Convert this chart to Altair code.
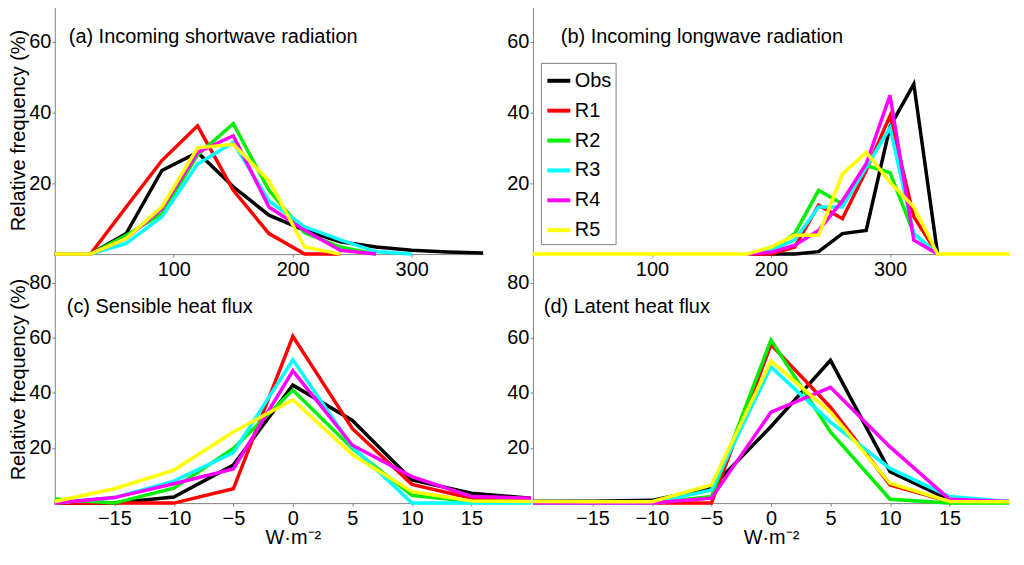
import altair as alt
import pandas as pd

series = ["Obs", "R1", "R2", "R3", "R4", "R5"]
colors = ["#000000", "#ff0000", "#00ee00", "#00ffff", "#ff00ff", "#ffff00"]
N = None

# (a) Incoming shortwave radiation
sw_x = [0, 30, 60, 90, 120, 150, 180, 210, 240, 270, 300, 330, 360]
sw_obs = [0, 0, 5.8, 23.6, 28.7, 19, 11, 6.7, 3.5, 2, 1.1, 0.6, 0.3]
sw_r1 = [0, 0, 13.3, 26.4, 36.2, 18, 5.8, 0, 0, N, N, N, N]
sw_r2 = [0, 0, 5.3, 11.4, 28, 36.8, 18, 6, 2, 0, N, N, N]
sw_r3 = [0, 0, 3, 10.5, 25.4, 31.5, 15, 7.7, 4, 0.7, 0, N, N]
sw_r4 = [0, 0, 4.4, 12.8, 28.7, 33.4, 13.3, 6.7, 1.1, 0, N, N, N]
sw_r5 = [0, 0, 4.4, 13.3, 30, 31, 20.7, 2, 0, N, N, N, N]

# (b) Incoming longwave radiation
lw_x = [0, 20, 40, 60, 80, 100, 120, 140, 160, 180, 200, 220, 240, 260, 280, 300, 320, 340, 360, 380, 400]
lw_obs = [N] * 9 + [0, 0, 0, 0.7, 5.8, 6.7, 36, 48, 0, N, N, N]
lw_r1 = [N] * 9 + [0, 0, 2, 13.8, 10, 23.6, 39, 10.5, 0, N, N, N]
lw_r2 = [N] * 9 + [0, 1, 5.8, 18, 14.2, 25, 23, 5.8, 0, N, N, N]
lw_r3 = [N] * 9 + [0, 1, 4, 13.3, 13.3, 24.5, 35.7, 5.8, 0, N, N, N]
lw_r4 = [N] * 9 + [0, 0.5, 2.5, 6.7, 15, 25.5, 44.8, 3.9, 0, N, N, N]
lw_r5 = [0] * 9 + [0, 2, 5.3, 5.3, 22.6, 28.7, 20.3, 13.3, 0, 0, 0, 0]

# (c) Sensible heat flux
sh_x = [-20, -15, -10, -5, 0, 5, 10, 15, 20]
sh_obs = [0, 0, 2.2, 13.8, 42.8, 30, 8.4, 3.6, 1.8]
sh_r1 = [0, 0, 0, 5.2, 60.5, 27, 6.8, 1.8, 1.2]
sh_r2 = [1.5, 0, 5.4, 19.8, 41, 19.8, 2.8, 0.6, 0.6]
sh_r3 = [0, 2, 8, 18.3, 52, 20.4, 0, 0, 0]
sh_r4 = [0, 2, 7, 12.4, 48, 21, 9.6, 2.4, 1.8]
sh_r5 = [0.6, 5.2, 12, 25.8, 37.5, 17.6, 4.2, 0.8, 0.6]

# (d) Latent heat flux
lh_x = [-20, -15, -10, -5, 0, 5, 10, 15, 20]
lh_obs = [0.7, 0.7, 1, 5.6, 27.8, 51.8, 11.4, 1.2, 0.6]
lh_r1 = [0, 0, 0, 0, 57.5, 34.8, 6.6, 0.6, 0.6]
lh_r2 = [0, 0, 0, 2.4, 59.2, 25.8, 1.4, 0, 0]
lh_r3 = [0, 0, 0, 4.8, 49.4, 29.4, 12.6, 2.4, 0.6]
lh_r4 = [0, 0, 0, 1.8, 33, 42, 20.4, 1.4, 0.6]
lh_r5 = [0.6, 0.5, 0.5, 6.6, 51.6, 33, 7.2, 0.6, 0.5]


def frame(xs, ys_list):
    rows = []
    for k, (name, ys) in enumerate(zip(series, ys_list)):
        for x, y in zip(xs, ys):
            if y is not None:
                rows.append({"series": name, "k": k, "x": x, "y": y})
    return pd.DataFrame(rows)


FONT = "Liberation Sans"
legend = alt.Legend(
    title=None, orient="none", legendX=488, legendY=57,
    symbolType="stroke", symbolStrokeWidth=4, symbolSize=530,
    labelFontSize=20, labelFont=FONT, labelColor="black", labelOffset=2,
    strokeColor="#808080", fillColor="white", padding=4, rowPadding=6,
    symbolOpacity=1,
)


def panel(df, xdom, ydom, xvals, yvals, w, label, lx, ly, ytitle=None, xtitle=None):
    xaxis = alt.Axis(values=xvals, title=xtitle, grid=False, labelFontSize=20,
                     labelFont=FONT, titleFont=FONT, titleFontSize=20,
                     titleFontWeight="normal", labelColor="black",
                     domainColor="#808080", tickColor="#808080", tickSize=3,
                     labelPadding=2, titlePadding=0, format="d")
    yaxis = alt.Axis(values=yvals, title=ytitle, grid=False, labelFontSize=20,
                     labelFont=FONT, titleFont=FONT, titleFontSize=20,
                     titleFontWeight="normal", labelColor="black",
                     domainColor="#808080", tickColor="#808080", tickSize=3,
                     labelPadding=1, titlePadding=0, format="d")
    lines = alt.Chart(df).mark_line(strokeWidth=3.5, clip=False).encode(
        x=alt.X("x:Q", scale=alt.Scale(domain=xdom, nice=False, zero=False), axis=xaxis),
        y=alt.Y("y:Q", scale=alt.Scale(domain=ydom, nice=False), axis=yaxis),
        color=alt.Color("series:N", scale=alt.Scale(domain=series, range=colors), legend=legend),
        detail="k:O",
    )
    txt = alt.Chart(pd.DataFrame({"t": [label]})).mark_text(
        align="left", baseline="middle", fontSize=20, font=FONT, color="black"
    ).encode(text="t:N", x=alt.value(lx), y=alt.value(ly))
    return alt.layer(lines, txt).properties(width=w, height=249)


pa = panel(frame(sw_x, [sw_obs, sw_r1, sw_r2, sw_r3, sw_r4, sw_r5]), [0, 360], [0, 70],
           [100, 200, 300], [20, 40, 60], 430, "(a) Incoming shortwave radiation", 14, 31,
           ytitle="Relative frequency (%)")
pb = panel(frame(lw_x, [lw_obs, lw_r1, lw_r2, lw_r3, lw_r4, lw_r5]), [0, 400], [0, 70],
           [100, 200, 300], [20, 40, 60], 478, "(b) Incoming longwave radiation", 28, 31)
pc = panel(frame(sh_x, [sh_obs, sh_r1, sh_r2, sh_r3, sh_r4, sh_r5]), [-20, 20], [0, 90],
           [-15, -10, -5, 0, 5, 10, 15], [20, 40, 60, 80], 478, "(c) Sensible heat flux", 12, 52,
           ytitle="Relative frequency (%)", xtitle="W·m⁻²")
pd_ = panel(frame(lh_x, [lh_obs, lh_r1, lh_r2, lh_r3, lh_r4, lh_r5]), [-20, 20], [0, 90],
            [-15, -10, -5, 0, 5, 10, 15], [20, 40, 60, 80], 478, "(d) Latent heat flux", 11, 52,
            xtitle="W·m⁻²")

chart = alt.concat(pa, pb, pc, pd_, columns=2, spacing={"row": 1, "column": 2},
                   bounds="flush").properties(
    padding={"left": 0, "top": -3, "right": 0, "bottom": 0}
).configure(background="white").configure_view(stroke=None, strokeWidth=0)

chart.save("out.html", embed_options={"renderer": "svg", "actions": False})
